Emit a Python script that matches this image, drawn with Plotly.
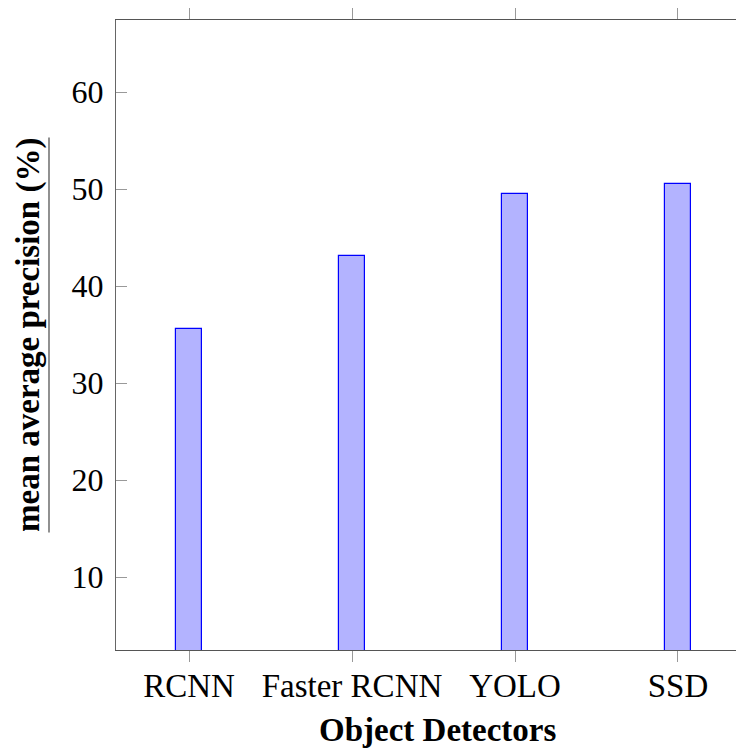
import plotly.graph_objects as go

categories = ["RCNN", "Faster RCNN", "YOLO", "SSD"]
map_values = [35.6, 43.1, 49.5, 50.5]
y_ticks = [10, 20, 30, 40, 50, 60]

# the page body adds an 8px margin; lay the figure out in page pixels minus that
OFF = 8
W, H = 744 - OFF, 751 - OFF
L, T = 116 - OFF, 14 - OFF
B = 751 - 650
R = 0
pw = W - L - R
ph = H - T - B

def px_to_paper_x(px):
    return (px - OFF - L) / pw

def px_to_paper_y(py):
    return (H - B - (py - OFF)) / ph

FONT = "Liberation Serif"
yrange = [2.5, 67.45]

fig = go.Figure()
fig.add_trace(go.Bar(
    x=categories, y=map_values, width=0.164,
    marker=dict(color="rgb(179,179,255)", line=dict(color="#0000ff", width=1.2)),
    showlegend=False, hoverinfo="x+y",
))

fig.update_layout(
    width=W, height=H,
    margin=dict(l=L, r=R, t=T, b=B, pad=0),
    plot_bgcolor="white", paper_bgcolor="white",
    font=dict(family=FONT, size=33, color="black"),
    bargap=0,
    xaxis=dict(
        type="category", range=[-0.448, 3.405],
        showline=True, linecolor="#555", linewidth=1.3, mirror="allticks",
        ticks="outside", ticklen=11, tickcolor="#999", tickwidth=1,
        showgrid=False, zeroline=False, ticklabelstandoff=-5,
        tickfont=dict(family=FONT, size=33, color="black"),
    ),
    yaxis=dict(
        range=yrange, tickvals=y_ticks,
        showline=True, linecolor="#666", linewidth=1.3, mirror=False,
        ticks="inside", ticklen=11, tickcolor="#999", tickwidth=1,
        showgrid=False, zeroline=False, ticklabelstandoff=5,
        tickfont=dict(family=FONT, size=32, color="black"),
    ),
    yaxis2=dict(
        overlaying="y", side="right", range=yrange, tickvals=y_ticks,
        showline=False, ticks="inside", ticklen=3, tickcolor="#999",
        showticklabels=False, showgrid=False, zeroline=False,
    ),
)

fig.add_annotation(
    text="<b>Object Detectors</b>", xref="paper", yref="paper",
    x=px_to_paper_x(437.5), y=px_to_paper_y(731), xanchor="center", yanchor="middle",
    showarrow=False, font=dict(family=FONT, size=33, color="black"),
)
fig.add_annotation(
    text="<b>mean average precision (%)</b>", xref="paper", yref="paper",
    x=px_to_paper_x(28), y=px_to_paper_y(332), xanchor="center", yanchor="middle",
    textangle=-90, showarrow=False, font=dict(family=FONT, size=33, color="black"),
)
fig.add_shape(
    type="line", xref="paper", yref="paper",
    x0=px_to_paper_x(49), x1=px_to_paper_x(49),
    y0=px_to_paper_y(132.5), y1=px_to_paper_y(531.5),
    line=dict(color="#555", width=1.3),
)

fig.write_html("out.html")
